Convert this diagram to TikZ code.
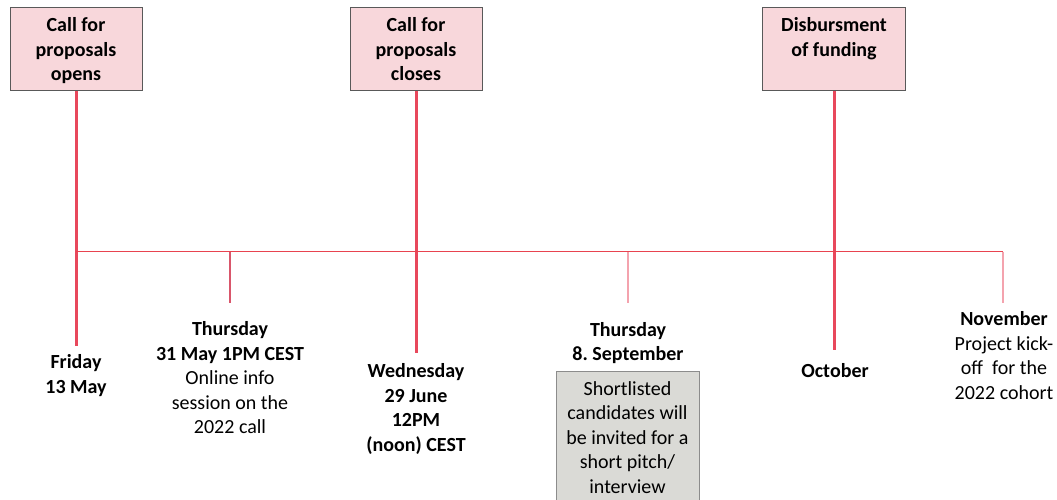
\documentclass[tikz,border=0pt]{standalone}
\usepackage{fontspec}
\setmainfont{Carlito}
\frenchspacing
\definecolor{stemred}{HTML}{E8485C}
\definecolor{linered}{HTML}{E8434F}
\definecolor{tickred}{HTML}{D9566B}
\definecolor{tickpink}{HTML}{F4A3AE}
\definecolor{boxpink}{HTML}{F8D7DB}
\definecolor{boxborder}{HTML}{595959}
\definecolor{graybox}{HTML}{DADAD6}
\definecolor{grayborder}{HTML}{8C8C8C}
\begin{document}
\begin{tikzpicture}[x=1pt,y=-1pt,
  pinkbox/.style={draw=boxborder,line width=1pt,fill=boxpink,minimum width=132pt,minimum height=83pt,inner sep=0pt},
  greybox/.style={draw=grayborder,line width=1pt,fill=graybox,minimum width=143pt,minimum height=140pt,inner sep=0pt},
  lbl/.style={align=center,inner sep=0pt,font=\fontsize{20}{24.5}\selectfont},
  stem/.style={draw=stemred,line width=3pt},
  tline/.style={draw=linered,line width=1.6pt},
  tickA/.style={draw=tickred,line width=1.1pt},
  tickB/.style={draw=tickpink,line width=1.6pt}
]
\useasboundingbox (0,0) rectangle (1057,500);
\clip (0,0) rectangle (1057,500);
\fill[white] (0,0) rectangle (1057,500);

% top boxes
\node[pinkbox] (b1) at (76,49.5) {};
\node[pinkbox] (b2) at (416,49.5) {};
\node[pinkbox,minimum width=143pt] (b3) at (834,49.5) {};
\node[lbl,anchor=north] (t1) at (76,17.5) {\bfseries Call for\\\bfseries proposals\\\bfseries opens};
\node[lbl,anchor=north] (t2) at (416,17.5) {\bfseries Call for\\\bfseries proposals\\\bfseries closes};
\node[lbl,anchor=north] (t3) at (834,17.5) {\bfseries Disbursment\\\bfseries of funding};

% timeline coordinates
\coordinate (L0) at (76,251.5);
\coordinate (L1) at (230,251.5);
\coordinate (L2) at (416,251.5);
\coordinate (L3) at (628,251.5);
\coordinate (L4) at (834,251.5);
\coordinate (L5) at (1003,251.5);
\coordinate (e0) at (76,346);
\coordinate (e1) at (230,303);
\coordinate (e2) at (416,353);
\coordinate (e3) at (628,303);
\coordinate (e4) at (834,350);
\coordinate (e5) at (1003,303);

\draw[tickA] (L1) -- (e1);
\draw[tickB] (L3) -- (e3);
\draw[tickB] (L5) -- (e5);
\draw[stem] (b1.south) -- (e0);
\draw[stem] (b2.south) -- (e2);
\draw[stem] (b3.south) -- (e4);
\draw[tline] (L0) -- (L5);

% bottom labels
\node[lbl,anchor=north] (d0) at (76,354.5) {\bfseries Friday\\\bfseries 13 May};
\node[lbl,anchor=north] (d1) at (230,321.5) {\bfseries Thursday\\\bfseries 31 May 1PM CEST\\Online info\\session on the\\2022 call};
\node[lbl,anchor=north] (d2) at (416,363.5) {\bfseries Wednesday\\\bfseries 29 June\\\bfseries 12PM\\\bfseries (noon) CEST};
\node[lbl,anchor=north] (d3) at (628,322) {\bfseries Thursday\\\bfseries 8. September};
\node[greybox,anchor=north] (g) at (627.5,371) {};
\node[lbl,anchor=north] (gt) at (627.5,381) {Shortlisted\\candidates will\\be invited for a\\short pitch/\\interview};
\node[lbl,anchor=north] (d4) at (835,363.5) {\bfseries October};
\node[lbl,anchor=north] (d5) at (1004,311.5) {\bfseries November\\Project kick-\\off\ \ for the\\2022 cohort};
\end{tikzpicture}
\end{document}
